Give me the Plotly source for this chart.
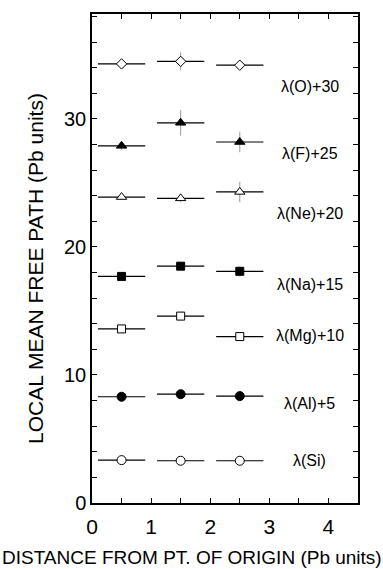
import plotly.graph_objects as go

x_pos = [0.5, 1.5, 2.5]
x_half = [0.4, 0.4, 0.4]

series_names = ["O", "F", "Ne", "Na", "Mg", "Al", "Si"]
labels = ["λ(O)+30", "λ(F)+25", "λ(Ne)+20", "λ(Na)+15", "λ(Mg)+10", "λ(Al)+5", "λ(Si)"]
vals_O = [34.3, 34.5, 34.2]
vals_F = [27.9, 29.7, 28.2]
vals_Ne = [23.9, 23.8, 24.3]
vals_Na = [17.7, 18.5, 18.1]
vals_Mg = [13.6, 14.6, 13.0]
vals_Al = [8.3, 8.5, 8.35]
vals_Si = [3.35, 3.3, 3.3]
err_O = [0.2, 0.7, 0.3]
err_F = [0.3, 1.0, 0.8]
err_Ne = [0.2, 0.3, 0.8]
err_Na = [0.2, 0.3, 0.4]
err_Mg = [0.2, 0.3, 0.2]
err_Al = [0.1, 0.1, 0.1]
err_Si = [0.1, 0.1, 0.1]
label_y = [32.5, 27.3, 22.6, 17.1, 13.1, 7.8, 3.35]
label_x = 3.68

x_tickvals = [0, 0.5, 1, 1.5, 2, 2.5, 3, 3.5, 4]
x_ticktext = ["0", "", "1", "", "2", "", "3", "", "4"]
y_tickvals = list(range(0, 39, 2))
y_ticktext = [str(v) if v % 10 == 0 else "" for v in y_tickvals]

values = [vals_O, vals_F, vals_Ne, vals_Na, vals_Mg, vals_Al, vals_Si]
errors = [err_O, err_F, err_Ne, err_Na, err_Mg, err_Al, err_Si]
symbols = ["diamond", "triangle-up", "triangle-up", "square", "square", "circle", "circle"]
fills = ["white", "black", "white", "black", "white", "black", "white"]
sizes = [8, 9, 9, 8, 8, 9, 9]

fig = go.Figure()
for v, e, s, f, sz in zip(values, errors, symbols, fills, sizes):
    fig.add_trace(go.Scatter(
        x=x_pos, y=v, mode="markers",
        marker=dict(symbol=s, size=sz, color=f, line=dict(color="black", width=1)),
        error_x=dict(type="data", array=x_half, width=0, thickness=1.2, color="black"),
        error_y=dict(type="data", array=e, width=0, thickness=1, color="#999999"),
        showlegend=False,
    ))

for lab, ly in zip(labels, label_y):
    fig.add_annotation(x=label_x, y=ly, text=lab, showarrow=False,
                       font=dict(family="Liberation Sans, Arial", size=16, color="black"))

title_font = dict(family="Liberation Sans, Arial", color="black")
fig.add_annotation(xref="paper", yref="paper", x=(191.5 - 92) / 266, y=-55 / 491,
                   xanchor="center", yanchor="middle", showarrow=False,
                   text="DISTANCE FROM PT. OF ORIGIN (Pb units)", font=dict(size=19, **title_font))
fig.add_annotation(xref="paper", yref="paper", x=0, xshift=-56, y=(503 - 268) / 491,
                   xanchor="center", yanchor="middle", showarrow=False, textangle=-90,
                   text="LOCAL MEAN FREE PATH (Pb units)", font=dict(size=21, **title_font))

fig.update_layout(
    width=383, height=569,
    margin=dict(l=92, r=25, t=12, b=66),
    plot_bgcolor="white", paper_bgcolor="white",
    xaxis=dict(range=[0, 4.5], tickvals=x_tickvals, ticktext=x_ticktext,
               ticks="inside", ticklen=5, tickcolor="black", showgrid=False, zeroline=False,
               showline=True, linecolor="black", linewidth=1.5, mirror="ticks",
               ticklabelstandoff=4,
               tickfont=dict(family="Liberation Sans", size=21, color="black")),
    yaxis=dict(range=[0, 38.2], tickvals=y_tickvals, ticktext=y_ticktext,
               ticks="inside", ticklen=5, tickcolor="black", showgrid=False, zeroline=False,
               showline=True, linecolor="black", linewidth=1.5, mirror="ticks",
               tickfont=dict(family="Liberation Sans", size=20, color="black")),
)

fig.write_html("out.html")
